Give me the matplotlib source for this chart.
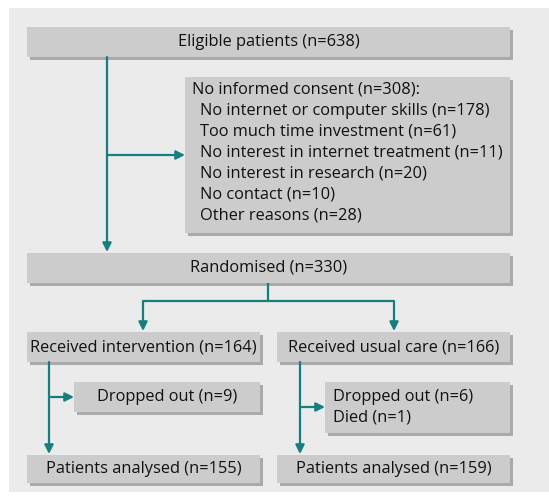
import matplotlib
matplotlib.use("Agg")
import matplotlib.pyplot as plt
from matplotlib.patches import Rectangle

# flowchart content
TOP_LABEL = "Eligible patients (n=638)"
EXCLUDED_HEAD = "No informed consent (n=308):"
EXCLUDED_REASONS = [
    "No internet or computer skills (n=178)",
    "Too much time investment (n=61)",
    "No interest in internet treatment (n=11)",
    "No interest in research (n=20)",
    "No contact (n=10)",
    "Other reasons (n=28)",
]
RANDOM_LABEL = "Randomised (n=330)"
ARM_LABELS = ["Received intervention (n=164)", "Received usual care (n=166)"]
LOSS_LABELS = [["Dropped out (n=9)"], ["Dropped out (n=6)", "Died (n=1)"]]
ANALYSED_LABELS = ["Patients analysed (n=155)", "Patients analysed (n=159)"]

W, H = 549, 496
PANEL = "#ebebeb"
BOX = "#cccccc"
SHADOW = "#aaaaaa"
TEAL = "#138080"
FONT = "Open Sans"
FS = 11.8
LINE_GAP = 20.9

fig = plt.figure(figsize=(W / 100, H / 100), dpi=100)
ax = fig.add_axes([0, 0, 1, 1])
ax.set_xlim(0, W)
ax.set_ylim(H, 0)
ax.axis("off")

ax.add_patch(Rectangle((9, 8), W - 9, 484, facecolor=PANEL, edgecolor="none"))


def box(x0, y0, x1, y1):
    ax.add_patch(Rectangle((x0 + 3, y0 + 3), x1 - x0, y1 - y0,
                           facecolor=SHADOW, edgecolor="none", zorder=1))
    ax.add_patch(Rectangle((x0, y0), x1 - x0, y1 - y0,
                           facecolor=BOX, edgecolor="none", zorder=2))


def label(x, y, s, ha="center"):
    ax.text(x, y, s, ha=ha, va="center", fontsize=FS, family=FONT,
            color="#111111", zorder=3)


def centred(x0, y0, x1, y1, s):
    box(x0, y0, x1, y1)
    label((x0 + x1) / 2, (y0 + y1) / 2, s)


def line(xs, ys):
    ax.plot(xs, ys, color=TEAL, lw=1.6, solid_capstyle="butt", zorder=4)


def arrow(x0, y0, x1, y1):
    ax.annotate("", xy=(x1, y1), xytext=(x0, y0),
                arrowprops=dict(arrowstyle="-|>", color=TEAL, lw=1.6,
                                mutation_scale=13, shrinkA=0, shrinkB=0),
                zorder=4)


# top
centred(27, 27, 510, 57, TOP_LABEL)

# exclusions
box(185, 77, 510, 233)
label(192, 90, EXCLUDED_HEAD, ha="left")
for i, r in enumerate(EXCLUDED_REASONS):
    label(200, 90 + LINE_GAP * (i + 1), r, ha="left")

arrow(107, 57, 107, 252)
arrow(107, 155, 185, 155)

# randomised
centred(27, 253, 510, 283, RANDOM_LABEL)
line([268, 268], [283, 301])
line([143, 394], [301, 301])
arrow(143, 301, 143, 331)
arrow(394, 301, 394, 331)

arms = [(27, 260), (277, 510)]
stems = [49, 300]
loss_boxes = [(74, 382, 260, 412), (325, 382, 510, 433)]
branch_y = [397, 407]

for k in range(2):
    x0, x1 = arms[k]
    centred(x0, 332, x1, 362, ARM_LABELS[k])
    arrow(stems[k], 362, stems[k], 454)
    bx0, by0, bx1, by1 = loss_boxes[k]
    arrow(stems[k], branch_y[k], bx0, branch_y[k])
    if len(LOSS_LABELS[k]) == 1:
        centred(bx0, by0, bx1, by1, LOSS_LABELS[k][0])
    else:
        box(bx0, by0, bx1, by1)
        for j, s in enumerate(LOSS_LABELS[k]):
            label(bx0 + 8, 397 + LINE_GAP * j, s, ha="left")
    centred(x0, 455, x1, 483, ANALYSED_LABELS[k])

fig.savefig("out.png", dpi=100)
